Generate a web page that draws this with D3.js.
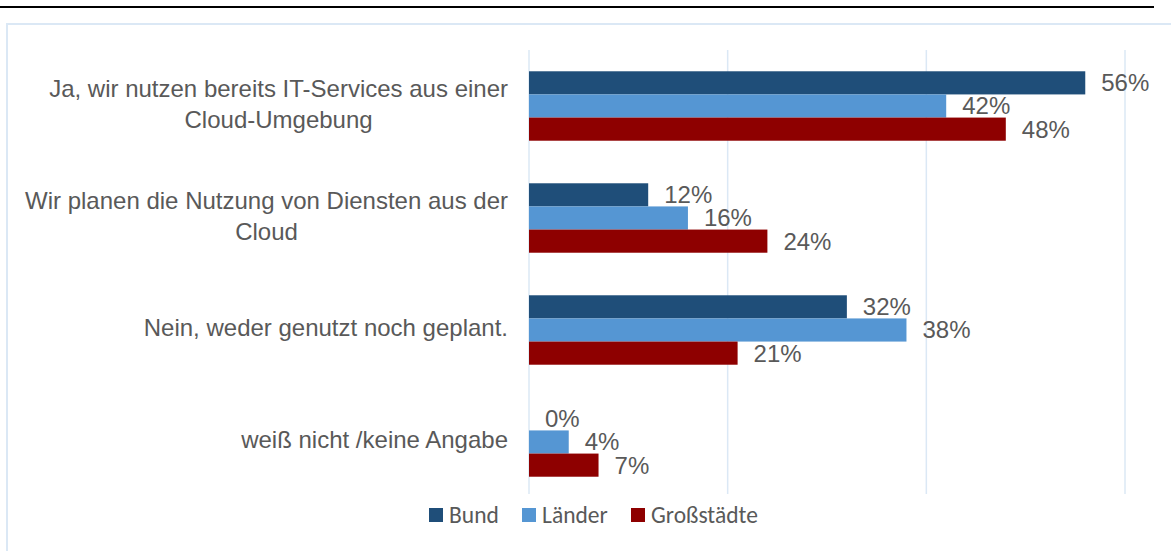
<!DOCTYPE html>
<html>
<head>
<meta charset="utf-8">
<script src="https://cdn.jsdelivr.net/npm/d3@7"></script>
<style>
  body { margin: 0; background: #fff; }
  svg { display: block; }
</style>
</head>
<body>
<svg id="chart" width="1171" height="551"></svg>
<script>
'use strict';

const categories = [
    "Ja, wir nutzen bereits IT-Services aus einer Cloud-Umgebung",
    "Wir planen die Nutzung von Diensten aus der Cloud",
    "Nein, weder genutzt noch geplant.",
    "weiß nicht /keine Angabe"
];
const seriesNames = ["Bund", "Länder", "Großstädte"];
const bund = [56, 12, 32, 0];
const laender = [42, 16, 38, 4];
const grossstaedte = [48, 24, 21, 7];
const xTicks = [0, 20, 40, 60];

const colors = ["#1f4e79", "#5596d3", "#8e0000"];
const values = [bund, laender, grossstaedte];

const svg = d3.select("#chart");
const margin = {top: 50, left: 529, plotBottom: 498};
const gridBottom = 494;
const labelFont = "Liberation Sans, Arial, sans-serif";

// header rule + frame
svg.append("rect").attr("x", 0).attr("y", 6).attr("width", 1154).attr("height", 2).attr("fill", "#000");
svg.append("rect").attr("x", 7).attr("y", 24).attr("width", 1180).attr("height", 560)
    .attr("fill", "none").attr("stroke", "#dbe8f5").attr("stroke-width", 2);

const x = d3.scaleLinear().domain([0, 60]).range([margin.left, 1125]);
const y = d3.scaleBand().domain(categories).range([margin.top, margin.plotBottom]).paddingInner(0.38).paddingOuter(0.19);
const ySub = d3.scaleBand().domain(seriesNames).range([0, y.bandwidth()]);

// gridlines
svg.append("g").selectAll("line").data(xTicks).join("line")
    .attr("x1", d => x(d)).attr("x2", d => x(d))
    .attr("y1", margin.top).attr("y2", gridBottom)
    .attr("stroke", "#dbe8f5").attr("stroke-width", 1.5);

// bars + value labels
const groups = svg.append("g").selectAll("g").data(seriesNames).join("g")
    .attr("fill", (d, i) => colors[i]);

groups.each(function (name, si) {
    const g = d3.select(this);
    g.selectAll("rect").data(values[si]).join("rect")
        .attr("x", x(0))
        .attr("y", (d, i) => y(categories[i]) + ySub(name))
        .attr("width", d => x(d) - x(0))
        .attr("height", ySub.bandwidth());
    g.selectAll("text").data(values[si]).join("text")
        .attr("x", d => x(d) + 16)
        .attr("y", (d, i) => y(categories[i]) + ySub(name) + ySub.bandwidth() / 2)
        .attr("dy", "0.35em")
        .attr("fill", "#595959")
        .attr("font-family", labelFont)
        .attr("font-size", 24)
        .text(d => d + "%");
});

// category labels, wrapped
const labels = svg.append("g").selectAll("text").data(categories).join("text")
    .attr("fill", "#595959")
    .attr("font-family", labelFont)
    .attr("font-size", 24)
    .attr("text-anchor", "middle");

labels.each(function (cat) {
    const t = d3.select(this);
    const words = cat.split(" ");
    const lines = [];
    let line = [];
    const probe = t.append("tspan");
    words.forEach(w => {
        line.push(w);
        probe.text(line.join(" "));
        if (probe.node().getComputedTextLength() > 495 && line.length > 1) {
            line.pop();
            lines.push(line.join(" "));
            line = [w];
        }
    });
    lines.push(line.join(" "));
    probe.remove();
    // widest line sets the block's right edge
    let maxW = 0;
    lines.forEach(l => {
        const p = t.append("tspan").text(l);
        maxW = Math.max(maxW, p.node().getComputedTextLength());
        p.remove();
    });
    const cx = 508 - maxW / 2;
    const lh = 31;
    const cy = y(cat) + y.bandwidth() / 2 - 2;
    lines.forEach((l, i) => {
        t.append("tspan")
            .attr("x", cx)
            .attr("y", cy + (i - (lines.length - 1) / 2) * lh)
            .attr("dy", "0.35em")
            .text(l);
    });
});

// legend
const legendX = [429, 522, 631];
const legend = svg.append("g").selectAll("g").data(seriesNames).join("g")
    .attr("transform", (d, i) => `translate(${legendX[i]},508)`);
legend.append("rect").attr("width", 14).attr("height", 14).attr("fill", (d, i) => colors[i]);
legend.append("text")
    .attr("x", 20).attr("y", 7).attr("dy", "0.35em")
    .attr("fill", "#595959")
    .attr("font-family", "Carlito, Lato, Open Sans, sans-serif")
    .attr("font-size", 23.5)
    .text(d => d);
</script>
</body>
</html>
